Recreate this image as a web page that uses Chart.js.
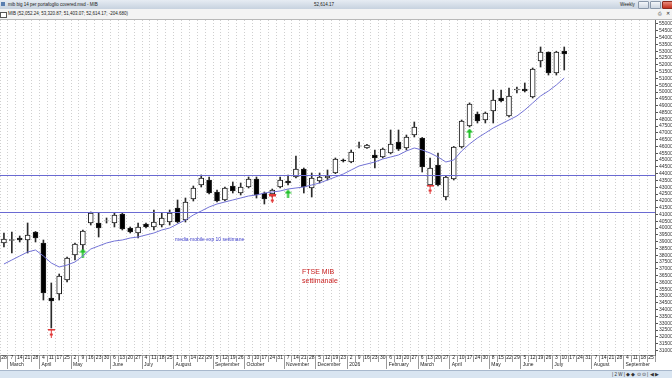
<!DOCTYPE html>
<html>
<head>
<meta charset="utf-8">
<script src="https://cdn.jsdelivr.net/npm/chart.js@4.4.1/dist/chart.umd.min.js"></script>
<style>
  body { margin: 0; width: 672px; height: 378px; overflow: hidden; background: #fff; font-family: "Liberation Sans", Arial, sans-serif; position: relative; }
  .bar1 { position: absolute; left: 0; top: 0; width: 672px; height: 9px; background: linear-gradient(#e6ecf3, #c7d2df); font-size: 4.5px; line-height: 9px; color: #222; }
  .bar2 { position: absolute; left: 0; top: 9px; width: 672px; height: 10px; background: #f3f3f3; border-bottom: 1px solid #b8b8b8; font-size: 4.5px; line-height: 10px; color: #222; }
  .abs { position: absolute; white-space: nowrap; }
  .btn { position: absolute; top: 1px; height: 6px; border: 1px solid #8a98aa; border-radius: 1px; background: linear-gradient(#f4f6f9, #cdd6e1); }
  .foot { position: absolute; left: 0; top: 370px; width: 672px; height: 8px; background: #d9e5f1; border-top: 1px solid #a8b8cc; font-size: 4.5px; line-height: 8px; color: #333; }
  #wrap { position: absolute; left: 0; top: 20px; width: 672px; height: 350px; }
  .note { position: absolute; white-space: nowrap; }
</style>
</head>
<body>
<div class="bar1">
  <span class="abs" style="left:1px;top:2px;width:4px;height:4px;background:#5a7fb0;"></span>
  <span class="abs" style="left:8px;">mib big 14 per portafoglio covered.msd - MIB</span>
  <span class="abs" style="left:314px;">52,614.17</span>
  <span class="abs" style="left:620px;">Weekly</span>
  <span class="btn" style="left:638px;width:9px;"></span>
  <span class="btn" style="left:650px;width:9px;"></span>
  <span class="btn" style="left:662px;width:10px;background:linear-gradient(#e98a7a,#c2301e);border-color:#8a2a1e;"></span>
</div>
<div class="bar2">
  <span class="abs" style="left:0px;top:3px;width:5px;height:4px;border:1px solid #555;background:#fff;"></span>
  <span class="abs" style="left:8px;">MIB (52,052.24; 53,320.87; 51,403.07; 52,614.17; -204.680)</span>
  <span class="abs" style="left:658px;">&#9113;</span>
  <span class="abs" style="left:666px;">&#10005;</span>
</div>
<div id="wrap"><canvas id="chart"></canvas></div>
<div class="note" style="left:175px;top:236px;font-size:5px;color:#3c3cc8;">media mobile exp 10 settimane</div>
<div class="note" style="left:302px;top:267px;font-size:7px;line-height:9px;color:#c81e1e;">FTSE MIB<br>settimanale</div>
<div class="foot">
  <span class="abs" style="left:612px;">| 2 W | &#9670; &#9670; &#8857; &#8857; | &#9664; &#9654;</span>
</div>
<script>
// settimane (venerdi) - le ultime sono vuote
const weeks = [
  '2025-02-28','2025-03-07','2025-03-14','2025-03-21','2025-03-28','2025-04-04','2025-04-11','2025-04-17','2025-04-25',
  '2025-05-02','2025-05-09','2025-05-16','2025-05-23','2025-05-30','2025-06-06','2025-06-13','2025-06-20','2025-06-27',
  '2025-07-04','2025-07-11','2025-07-18','2025-07-25','2025-08-01','2025-08-08','2025-08-14','2025-08-22','2025-08-29',
  '2025-09-05','2025-09-12','2025-09-19','2025-09-26','2025-10-03','2025-10-10','2025-10-17','2025-10-24','2025-10-31',
  '2025-11-07','2025-11-14','2025-11-21','2025-11-28','2025-12-05','2025-12-12','2025-12-19','2025-12-23',
  '2026-01-02','2026-01-09','2026-01-16','2026-01-23','2026-01-30','2026-02-06','2026-02-13','2026-02-20','2026-02-27',
  '2026-03-06','2026-03-13','2026-03-20','2026-03-27','2026-04-02','2026-04-10','2026-04-17','2026-04-24','2026-04-30',
  '2026-05-08','2026-05-15','2026-05-22','2026-05-29','2026-06-05','2026-06-12','2026-06-19','2026-06-26',
  '2026-07-03','2026-07-10','2026-07-17','2026-07-24','2026-07-31','2026-08-07','2026-08-14','2026-08-21','2026-08-28',
  '2026-09-04','2026-09-11','2026-09-18','2026-09-25'
];
const monthNames = ['January','February','March','April','May','June','July','August','September','October','November','December'];
const yTicks = [31000,31500,32000,32500,33000,33500,34000,34500,35000,35500,36000,36500,37000,37500,38000,38500,39000,39500,
  40000,40500,41000,41500,42000,42500,43000,43500,44000,44500,45000,45500,46000,46500,47000,47500,48000,48500,49000,49500,
  50000,50500,51000,51500,52000,52500,53000,53500,54000,54500,55000];

const opens = [38904,39100,39271,39124,39712,38904,34861,35155,36184,38022,38756,40374,40374,40520,40374,41035,40006,39638,
  40300,40080,40226,40447,41476,40594,42138,43166,43534,42652,42064,43093,42578,43020,43608,42578,42505,43020,43460,43754,
  44342,42946,43460,43681,44048,45004,44857,46020,45886,45372,45224,45518,46327,45886,46842,46621,43166,44636,42284,43608,
  45960,47503,48385,47944,48606,49561,48238,50149,50222,49634,52280,52942,51398,53016];
const highs = [39638,39712,39418,40374,39750,39124,35964,36625,37874,38904,39859,41182,41108,40741,41108,41108,40080,40374,
  40374,41329,41108,41329,42064,42211,43093,43902,43754,42799,43020,43387,43314,43754,43754,42652,42872,43754,43902,45298,
  44416,44048,44048,44269,45151,45078,45739,46327,46150,45739,45886,47209,47209,46842,47797,46660,45151,45518,43800,46000,
  47944,49200,48532,48532,50149,50149,50296,50370,50664,51766,53310,52950,53000,53310];
const lows = [38610,38168,38977,38168,38977,34714,32656,34714,36037,37654,38389,40226,39344,40374,40080,39859,39638,39271,
  40006,39859,40080,40226,40374,40447,41990,43020,42505,41917,41990,42578,42432,42946,42211,41770,42284,42946,43166,43681,
  42578,42284,43314,43534,44000,44857,44800,45886,45850,44416,45150,45450,45700,45739,46694,44122,43093,43093,42064,43534,
  45886,47430,47724,47724,47724,49267,48164,49928,50002,49561,51840,51250,51250,51619];
const closes = [39198,39150,39124,39492,39271,35228,34640,36478,37801,38830,39786,41108,40006,40540,40962,39932,39712,40080,
  40080,40447,40741,41108,40447,41917,42946,43681,42578,41990,42946,42726,43020,43608,42432,42138,42799,43534,43314,44342,
  43020,43681,43754,43828,45078,44930,45592,46050,46106,45151,45812,46180,45800,46694,47430,44490,44416,43166,43754,45960,
  47870,49120,47870,48458,49414,49340,49708,50222,50075,51692,52942,51398,52942,52795];
// media mobile esponenziale 10 settimane
const ema10 = [37360,37654,37948,38242,38389,37948,37434,37140,37286,37507,37948,38462,38683,38904,39050,39124,39271,39344,
  39492,39638,39859,40006,40300,40594,40962,41256,41550,41770,41917,42064,42211,42358,42432,42578,42652,42726,42872,42946,
  43020,43166,43314,43534,43754,43975,44269,44563,44710,44857,45078,45224,45372,45666,45886,45739,45518,45224,44857,45004,
  45666,46180,46621,46988,47356,47650,47944,48238,48679,49194,49708,50075,50517,51031];
// livelli orizzontali
const levels = [43900, 41180];
// segnali
const sellWeeks = ['2025-04-11', '2025-10-24', '2026-03-13'];
const sellValues = [32288, 42138, 42872];
const buyWeeks = ['2025-05-09', '2025-11-07', '2026-04-17'];
const buyValues = [38168, 42505, 46987];

function arrowDown() {
  const c = document.createElement('canvas');
  c.width = 7; c.height = 9;
  const g = c.getContext('2d');
  g.fillStyle = '#e23a3a';
  g.fillRect(0, 0, 7, 2);
  g.fillRect(3, 2, 1, 7);
  g.fillRect(2, 5, 3, 2);
  return c;
}
function arrowUp() {
  const c = document.createElement('canvas');
  c.width = 7; c.height = 9;
  const g = c.getContext('2d');
  g.fillStyle = '#22c02a';
  g.beginPath();
  g.moveTo(3.5, 0); g.lineTo(7, 4); g.lineTo(0, 4); g.closePath();
  g.fill();
  g.fillRect(2.5, 4, 2, 5);
  return c;
}

function dayLabel(i) {
  if (!(i >= 0 && i < weeks.length)) return '';
  return String(Number(weeks[i].slice(8)));
}
function monthLabel(i) {
  if (!(i > 0 && i < weeks.length)) return '';
  const m = weeks[i].slice(5, 7);
  if (weeks[i - 1].slice(5, 7) === m) return '';
  if (weeks[i - 1].slice(0, 4) !== weeks[i].slice(0, 4)) return weeks[i].slice(0, 4);
  return monthNames[Number(m) - 1];
}

const levelLines = {
  id: 'levelLines',
  afterDatasetsDraw(chart) {
    const {ctx, chartArea, scales} = chart;
    ctx.save();
    ctx.strokeStyle = '#6a6ad2';
    ctx.lineWidth = 1;
    levels.forEach(v => {
      const y = Math.round(scales.y.getPixelForValue(v)) + 0.5;
      ctx.beginPath();
      ctx.moveTo(chartArea.left, y);
      ctx.lineTo(chartArea.right, y);
      ctx.stroke();
    });
    ctx.restore();
  }
};

const chart1 = document.getElementById('chart');
new Chart(chart1, {
  type: 'bar',
  data: {
    labels: weeks,
    datasets: [
      {
        label: 'corpo',
        data: opens.map((o, i) => [o, closes[i]]),
        backgroundColor: opens.map((o, i) => closes[i] >= o ? '#ffffff' : '#000000'),
        borderColor: '#1e1e1e',
        borderWidth: 1,
        borderSkipped: false,
        barThickness: 5,
        grouped: false,
        order: 1
      },
      {
        label: 'ombra',
        data: lows.map((l, i) => [l, highs[i]]),
        backgroundColor: '#2a2a2a',
        barThickness: 1,
        grouped: false,
        order: 2
      },
      {
        type: 'line',
        label: 'media mobile exp 10 settimane',
        data: ema10,
        borderColor: '#7474d6',
        borderWidth: 1,
        pointRadius: 0,
        tension: 0,
        order: 0
      },
      {
        type: 'line',
        label: 'vendi',
        data: sellWeeks.map((w, i) => ({x: w, y: sellValues[i]})),
        showLine: false,
        pointStyle: arrowDown(),
        pointRadius: 4,
        order: 0
      },
      {
        type: 'line',
        label: 'compra',
        data: buyWeeks.map((w, i) => ({x: w, y: buyValues[i]})),
        showLine: false,
        pointStyle: arrowUp(),
        pointRadius: 4,
        order: 0
      }
    ]
  },
  options: {
    responsive: true,
    maintainAspectRatio: false,
    animation: false,
    events: [],
    layout: { autoPadding: false },
    plugins: {
      legend: { display: false },
      tooltip: { enabled: false }
    },
    scales: {
      x: {
        offset: true,
        weight: 0,
        grid: { offset: true, color: '#cfcfcf', tickLength: 7, tickColor: '#9a9a9a' },
        border: { display: true, color: '#9a9a9a', dash: [1, 2] },
        ticks: {
          autoSkip: false, maxRotation: 0, padding: -7,
          font: { size: 5, family: 'Liberation Sans' }, color: '#222',
          callback: (v, i) => dayLabel(i)
        },
        afterFit: s => { s.height = 7; s.paddingLeft = 0; s.paddingRight = 0; }
      },
      xm: {
        type: 'category',
        position: 'bottom',
        offset: true,
        weight: 1,
        grid: {
          offset: true, drawOnChartArea: false, tickLength: 7,
          tickColor: c => monthLabel(c.index) ? '#9a9a9a' : 'rgba(0,0,0,0)'
        },
        border: { display: false },
        ticks: {
          autoSkip: false, maxRotation: 0, padding: -7, align: 'start', labelOffset: -2,
          font: { size: 5, family: 'Liberation Sans' }, color: '#222',
          callback: (v, i) => monthLabel(i)
        },
        afterFit: s => { s.height = 8; s.paddingLeft = 0; s.paddingRight = 0; }
      },
      y: {
        position: 'right',
        min: 30671,
        max: 55294,
        afterBuildTicks: s => { s.ticks = yTicks.map(v => ({value: v})); },
        grid: { drawOnChartArea: false, tickLength: 3, tickColor: '#555' },
        border: { color: '#666' },
        ticks: {
          autoSkip: false, padding: 1,
          font: { size: 5, family: 'Liberation Sans' }, color: '#333',
          callback: v => String(v)
        },
        afterFit: s => { s.width = 17; s.paddingTop = 0; s.paddingBottom = 0; }
      }
    }
  },
  plugins: [levelLines]
});
</script>
</body>
</html>
